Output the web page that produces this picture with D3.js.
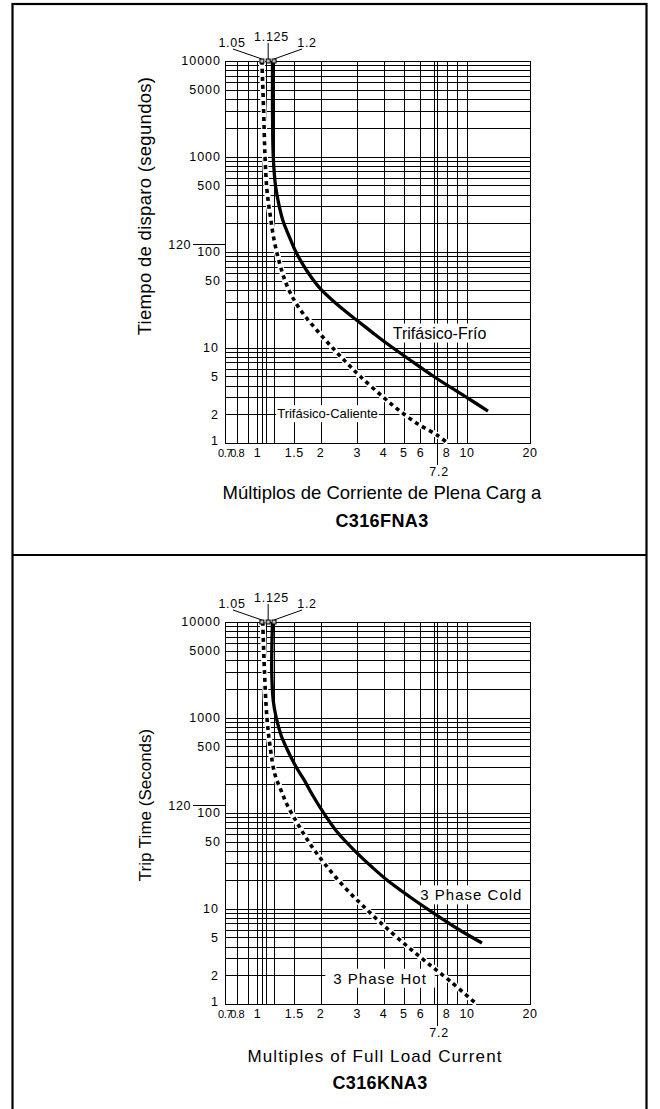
<!DOCTYPE html>
<html>
<head>
<meta charset="utf-8">
<script src="https://cdn.jsdelivr.net/npm/d3@7"></script>
<style>
  body { margin: 0; background: #fff; }
  text { font-family: "Liberation Sans", Arial, Helvetica, sans-serif; fill: #000; }
</style>
</head>
<body>
<script>
// axis values
var xTicks = [0.7, 0.8, 1, 1.5, 2, 3, 4, 5, 6, 8, 10, 20];
var xGrid = [0.8, 0.9, 1, 1.05, 1.1, 1.2, 1.5, 2, 3, 4, 5, 6, 7, 7.2, 8, 9, 10];
var yTicks = [10000, 5000, 1000, 500, 100, 50, 10, 5, 2, 1];
var startMarks = [1.05, 1.125, 1.2];
var extraX = 7.2;
var extraY = 120;

// curves [multiple of FLC, seconds]
var coldFNA = [[1.18, 10000], [1.18, 3070], [1.19, 990], [1.22, 490], [1.27, 303], [1.33, 206],
  [1.42, 144], [1.51, 105], [1.63, 77], [1.8, 55], [2.01, 40.5], [2.3, 30.7], [2.62, 24.1],
  [2.99, 19.2], [3.52, 14.5], [4.15, 11.0], [5.35, 7.4], [6.89, 5.03], [8.3, 3.86],
  [10, 2.99], [12.6, 2.16]];
var hotFNA = [[1.05, 10000], [1.07, 3070], [1.087, 990], [1.11, 446], [1.15, 244], [1.2, 134],
  [1.27, 79], [1.35, 51], [1.46, 34.6], [1.63, 23.5], [1.9, 15.6], [2.22, 10.6], [2.62, 7.2],
  [3.09, 5.0], [3.98, 3.03], [4.79, 2.16], [5.84, 1.58], [7.2, 1.21], [8.1, 1.0]];
var coldKNA = [[1.18, 10000], [1.17, 3070], [1.19, 1490], [1.23, 990], [1.3, 640], [1.37, 491],
  [1.46, 367], [1.56, 282], [1.67, 222], [1.82, 158], [2.03, 107], [2.42, 62], [2.99, 38],
  [3.52, 27.2], [4.15, 19.9], [5.35, 13.2], [6.9, 9.0], [9.06, 6.1], [11.8, 4.35]];
var hotKNA = [[1.06, 10000], [1.08, 3070], [1.11, 990], [1.15, 491], [1.21, 256], [1.3, 170],
  [1.38, 124], [1.53, 82], [1.69, 57], [1.86, 41.5], [2.08, 30], [2.42, 20], [2.83, 13.8],
  [3.16, 10.9], [3.64, 8.05], [4.15, 6.18], [5.17, 4.05], [6.45, 2.71], [8.3, 1.74], [11.1, 1.0]];

var panels = [
  { dy: 0, cold: coldFNA, hot: hotFNA,
    yTitle: 'Tiempo de disparo (segundos)', yTitleY: 206, yTitleSize: 18.5, yTitleSpacing: 0.3,
    xTitle: 'Múltiplos de Corriente de Plena Carg a', xTitleX: 382, xTitleY: 493, xTitleSize: 18.5, xTitleSpacing: 0,
    model: 'C316FNA3', modelX: 382, modelY: 521,
    coldLabel: 'Trifásico-Frío', coldAt: [7.4, 14.2], coldSize: 16, coldSpacing: 0, coldPad: 4,
    hotLabel: 'Trifásico-Caliente', hotAt: [2.16, 2.03], hotSize: 13, hotSpacing: 0, hotPad: 1 },
  { dy: 561, cold: coldKNA, hot: hotKNA,
    yTitle: 'Trip Time (Seconds)', yTitleY: 244, yTitleSize: 17, yTitleSpacing: 0,
    xTitle: 'Multiples of Full Load Current', xTitleX: 375, xTitleY: 495, xTitleSize: 17, xTitleSpacing: 1.1,
    model: 'C316KNA3', modelX: 380, modelY: 522,
    coldLabel: '3 Phase Cold', coldAt: [10.5, 13.8], coldSize: 15, coldSpacing: 1, coldPad: 4,
    hotLabel: '3 Phase Hot', hotAt: [3.85, 1.85], hotSize: 15, hotSpacing: 1, hotPad: 8 }
];

var W = 660, H = 1109;
var svg = d3.select('body').append('svg')
  .attr('width', W)
  .attr('height', H);

var x = d3.scaleLog().domain([0.7, 20]).range([225, 530]);
var y = d3.scaleLog().domain([1, 10000]).range([443, 61]);

var line = d3.line()
  .x(function (d) { return x(d[0]); })
  .y(function (d) { return y(d[1]); })
  .curve(d3.curveCatmullRom.alpha(0.5));

// outer frame + divider
svg.append('rect')
  .attr('x', 12.5).attr('y', 4)
  .attr('width', 634).attr('height', H + 10)
  .attr('fill', 'none').attr('stroke', '#000').attr('stroke-width', 2.2);
svg.append('line')
  .attr('x1', 12).attr('x2', 647).attr('y1', 555).attr('y2', 555)
  .attr('stroke', '#000').attr('stroke-width', 2.2);

function drawPanel(p) {
  var g = svg.append('g').attr('transform', 'translate(0,' + p.dy + ')');
  var grid = g.append('g').attr('stroke', '#000').attr('stroke-width', 1).attr('shape-rendering', 'crispEdges');

  grid.selectAll('.hg')
    .data(y.ticks())
    .enter().append('line')
    .attr('x1', x(0.7)).attr('x2', x(20))
    .attr('y1', function (d) { return Math.round(y(d)) + 0.5; })
    .attr('y2', function (d) { return Math.round(y(d)) + 0.5; });

  grid.selectAll('.vg')
    .data(xGrid)
    .enter().append('line')
    .attr('x1', function (d) { return Math.round(x(d)) + 0.5; })
    .attr('x2', function (d) { return Math.round(x(d)) + 0.5; })
    .attr('y1', y(10000)).attr('y2', function (d) { return d === extraX ? y(1) + 22 : y(1); });

  grid.append('rect')
    .attr('x', Math.round(x(0.7)) + 0.5).attr('y', Math.round(y(10000)) + 0.5)
    .attr('width', Math.round(x(20)) - Math.round(x(0.7)))
    .attr('height', Math.round(y(1)) - Math.round(y(10000)))
    .attr('fill', 'none');

  // 120 s reference
  grid.append('line')
    .attr('x1', 193).attr('x2', x(0.7))
    .attr('y1', Math.round(y(extraY)) + 0.5).attr('y2', Math.round(y(extraY)) + 0.5);
  g.append('text')
    .attr('x', 191).attr('y', y(extraY)).attr('dy', '0.35em')
    .attr('text-anchor', 'end').style('font-size', '12.5px').style('letter-spacing', '0.6px')
    .text(extraY);

  // tick labels
  g.selectAll('.yl')
    .data(yTicks)
    .enter().append('text')
    .attr('x', function (d) { return d < 20 ? 219 : 221; })
    .attr('y', function (d) { return d === 1 ? y(d) - 2 : y(d); })
    .attr('dy', '0.35em')
    .attr('text-anchor', 'end')
    .style('font-size', '12.5px').style('letter-spacing', '1px')
    .text(function (d) { return d; });

  g.selectAll('.xl')
    .data(xTicks)
    .enter().append('text')
    .attr('x', function (d) { return x(d); })
    .attr('y', y(1) + 14)
    .attr('text-anchor', 'middle')
    .style('font-size', function (d) { return d < 1 ? '11px' : '12.5px'; })
    .style('letter-spacing', function (d) { return d < 1 ? '-0.5px' : '0.6px'; })
    .text(function (d) { return d; });

  g.append('text')
    .attr('x', x(extraX) + 2).attr('y', y(1) + 33)
    .attr('text-anchor', 'middle')
    .style('font-size', '12.5px').style('letter-spacing', '0.8px')
    .text(extraX);

  // curve labels: white boxes under the curves, text on top
  var labelLayer = g.append('g');
  var curveLayer = g.append('g');
  function curveLabel(txt, at, size, spacing, pad) {
    var t = g.append('text')
      .attr('x', x(at[0])).attr('y', y(at[1])).attr('dy', '0.35em')
      .attr('text-anchor', 'middle')
      .style('font-size', size + 'px').style('letter-spacing', spacing + 'px')
      .text(txt);
    var bb = t.node().getBBox();
    labelLayer.append('rect')
      .attr('x', bb.x - pad).attr('y', bb.y - 1)
      .attr('width', bb.width + pad * 2).attr('height', bb.height + 2)
      .attr('fill', '#fff');
  }
  curveLabel(p.coldLabel, p.coldAt, p.coldSize, p.coldSpacing, p.coldPad);
  curveLabel(p.hotLabel, p.hotAt, p.hotSize, p.hotSpacing, p.hotPad);

  // curves
  curveLayer.append('path')
    .attr('d', line(p.hot))
    .attr('fill', 'none').attr('stroke', '#fff').attr('stroke-width', 6);
  curveLayer.append('path')
    .attr('d', line(p.hot))
    .attr('fill', 'none').attr('stroke', '#000').attr('stroke-width', 3.6)
    .attr('stroke-dasharray', '4,4');
  curveLayer.append('path')
    .attr('d', line(p.cold))
    .attr('fill', 'none').attr('stroke', '#000').attr('stroke-width', 3.3);

  // start markers with leaders
  var labelPos = [[232, 43], [271.5, 37], [307, 43]];
  var leaderFrom = [[233, 49], [x(1.125), 43], [302, 49]];
  startMarks.forEach(function (m, i) {
    g.append('line')
      .attr('x1', leaderFrom[i][0]).attr('y1', leaderFrom[i][1])
      .attr('x2', x(m)).attr('y2', y(10000) - 2)
      .attr('stroke', '#000').attr('stroke-width', 1);
    g.append('text')
      .attr('x', labelPos[i][0]).attr('y', labelPos[i][1]).attr('dy', '0.35em')
      .attr('text-anchor', 'middle')
      .style('font-size', '12.5px').style('letter-spacing', '0.7px')
      .text(m);
  });
  g.selectAll('.mk')
    .data(startMarks)
    .enter().append('rect')
    .attr('x', function (d) { return x(d) - 2; })
    .attr('y', y(10000) - 2)
    .attr('width', 4).attr('height', 4)
    .attr('fill', '#bbb').attr('stroke', '#000').attr('stroke-width', 1);

  // titles
  g.append('text')
    .attr('transform', 'translate(145,' + p.yTitleY + ') rotate(-90)')
    .attr('text-anchor', 'middle').attr('dy', '0.35em')
    .style('font-size', p.yTitleSize + 'px').style('letter-spacing', p.yTitleSpacing + 'px')
    .text(p.yTitle);
  g.append('text')
    .attr('x', p.xTitleX).attr('y', p.xTitleY).attr('dy', '0.35em')
    .attr('text-anchor', 'middle')
    .style('font-size', p.xTitleSize + 'px').style('letter-spacing', p.xTitleSpacing + 'px')
    .text(p.xTitle);
  g.append('text')
    .attr('x', p.modelX).attr('y', p.modelY).attr('dy', '0.35em')
    .attr('text-anchor', 'middle')
    .style('font-size', '18px').style('font-weight', 'bold').style('letter-spacing', '0.4px')
    .text(p.model);
}

panels.forEach(drawPanel);
</script>
</body>
</html>
